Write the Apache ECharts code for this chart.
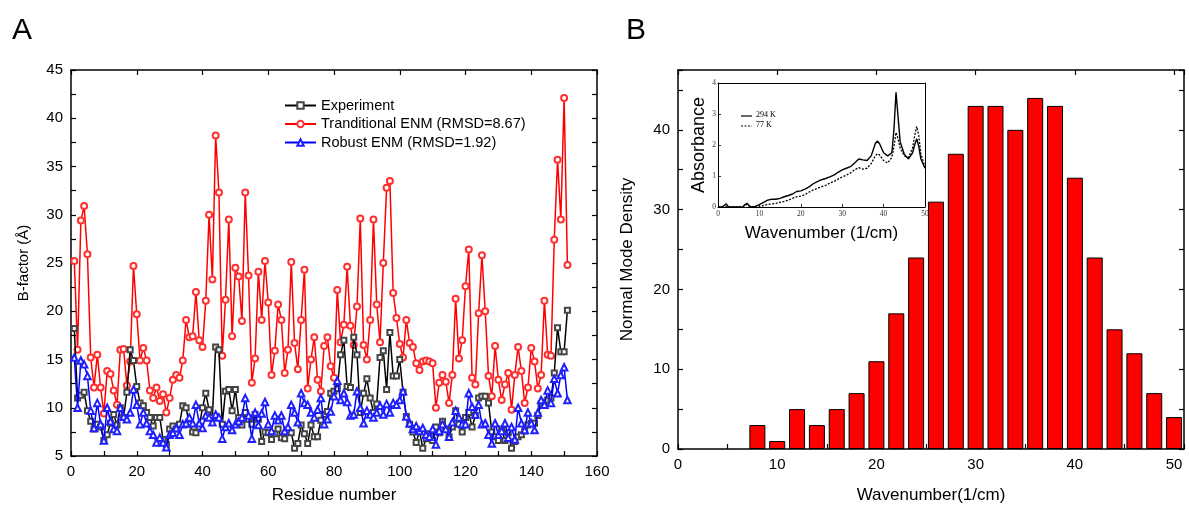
<!DOCTYPE html>
<html><head><meta charset="utf-8">
<script src="https://cdn.jsdelivr.net/npm/echarts@6/dist/echarts.min.js"></script>
<style>html,body{margin:0;padding:0;background:#fff}#c{width:1189px;height:509px}</style>
</head><body><div id="c"></div>
<script>
// ---------- Panel A data ----------
const residues = Array.from({length:151},(_,i)=>i+1);
const experiment = [
18.2,11.0,11.3,11.6,9.7,8.6,7.8,8.3,8.0,6.6,
7.2,8.4,9.3,8.2,10.0,9.0,11.6,16.0,14.9,12.2,
10.5,10.2,9.5,9.0,8.1,9.0,9.0,6.7,6.2,7.8,
8.1,7.8,8.3,10.2,10.0,8.3,7.5,7.4,8.0,10.0,
11.5,9.8,9.0,16.3,16.0,8.3,11.7,11.9,9.7,11.9,
9.0,8.2,9.5,8.8,8.3,9.3,8.8,6.5,7.5,7.4,
6.7,7.3,7.8,6.9,6.8,7.6,7.4,5.8,6.3,8.2,
7.3,6.3,8.2,7.0,7.0,8.7,9.3,9.6,11.5,11.7,
12.0,15.5,17.0,12.2,12.1,17.3,15.5,9.5,11.5,13.0,
11.0,9.5,10.4,15.2,15.9,11.9,17.8,13.3,13.3,15.0,
11.6,9.1,8.3,7.5,6.4,7.6,5.8,6.8,7.3,6.6,
8.0,7.4,8.6,7.8,7.0,8.0,9.7,8.3,7.5,9.0,
9.5,8.0,9.2,11.0,11.2,11.2,10.5,7.5,7.0,6.6,
7.8,6.6,7.4,5.8,6.5,7.0,7.2,7.6,8.2,8.4,
8.4,9.2,10.4,10.6,10.8,11.0,13.6,18.3,15.8,15.8,
20.1];
const traditional = [
25.2,16.0,29.4,30.9,25.9,15.2,12.1,15.5,12.1,9.4,
13.8,13.5,11.8,10.3,16.0,16.1,12.3,14.8,24.7,19.7,
14.9,16.2,14.9,11.8,11.0,12.1,10.7,11.4,9.5,11.0,
12.9,13.4,13.1,14.9,19.1,17.3,17.4,22.0,17.0,16.3,
21.1,30.0,23.3,38.2,32.3,15.4,21.2,29.5,17.4,24.5,
23.6,19.0,32.3,23.7,12.6,15.1,24.1,19.1,25.2,20.9,
13.4,15.9,20.7,19.1,13.6,16.0,25.1,16.7,14.0,19.1,
24.3,12.0,15.0,17.3,12.9,11.7,16.4,17.3,14.3,13.1,
22.2,16.8,18.6,24.6,18.5,16.5,20.5,29.6,16.5,15.0,
19.1,29.5,20.7,16.8,25.0,32.8,33.5,21.9,19.3,16.6,
15.2,19.1,16.7,16.3,14.6,13.9,14.8,14.9,14.8,14.6,
10.0,12.6,13.4,12.7,10.5,13.4,21.3,15.1,17.0,22.6,
26.4,13.1,12.4,19.8,25.8,20.0,13.3,11.2,16.4,12.9,
10.8,12.4,13.6,9.8,13.4,16.3,13.8,10.5,12.1,16.2,
14.8,12.0,13.4,21.1,15.5,15.4,27.4,35.7,29.5,42.1,
24.8];
const robust = [
15.2,10.0,14.9,14.5,13.3,9.7,7.9,10.5,8.3,6.6,
10.0,8.6,7.8,7.6,10.0,9.1,8.8,9.5,11.9,10.3,
8.3,9.5,8.4,7.6,7.2,6.4,6.9,6.4,5.9,7.2,
7.4,7.9,7.2,8.3,8.4,9.0,8.4,10.3,8.4,7.9,
9.2,9.0,8.5,9.3,9.0,6.8,8.0,8.4,7.7,8.3,
8.6,9.0,11.0,9.2,6.8,9.5,8.2,9.4,10.6,8.3,
7.6,9.2,8.7,9.2,7.6,8.0,10.3,9.5,8.5,11.5,
10.5,10.3,9.5,9.0,9.8,11.0,8.3,8.8,9.6,11.2,
12.8,10.8,11.5,10.6,9.2,9.3,11.7,10.0,8.4,9.7,
9.3,9.0,9.5,10.2,9.3,10.4,9.5,10.5,10.3,10.8,
11.7,9.1,8.4,7.8,8.1,7.6,7.9,7.2,7.0,7.8,
6.2,7.6,8.3,7.8,7.0,8.5,9.7,9.0,8.3,8.3,
11.5,10.1,9.3,10.3,8.3,8.4,7.2,6.3,8.4,7.2,
7.6,8.4,6.9,8.0,6.7,10.0,8.4,7.7,9.5,8.4,
7.7,9.5,10.8,10.3,11.8,10.5,13.0,11.5,13.4,14.2,
10.8];
const seriesNamesA = ['Experiment','Tranditional ENM (RMSD=8.67)','Robust ENM (RMSD=1.92)'];

// ---------- Panel B data ----------
const wavenumbers = [8,10,12,14,16,18,20,22,24,26,28,30,32,34,36,38,40,42,44,46,48,50];
const density     = [3,1,5,3,5,7,11,17,24,31,37,43,43,40,44,43,34,24,15,12,7,4];

// ---------- Inset data ----------
const insetX   = [0,1,2,2.5,3,6,6.5,7,7.5,8,9,10,11,12,13,14,15,16,17,18,19,20,21,22,23,24,25,26,27,28,29,30,31,32,33,34,35,36,37,38,38.5,39,40,41,42,42.5,43,43.5,44,45,46,47,47.5,48,48.5,49,50];
const abs294   = [0,0,0.1,0,0,0,0.08,0.12,0.05,0,0.02,0.08,0.15,0.22,0.25,0.25,0.28,0.33,0.37,0.42,0.5,0.52,0.58,0.65,0.75,0.82,0.88,0.92,0.97,1.03,1.12,1.2,1.25,1.3,1.42,1.55,1.52,1.5,1.65,2.05,2.13,2.05,1.75,1.65,1.75,2.5,3.7,2.9,2.1,1.7,1.55,1.75,2.0,2.2,1.95,1.55,1.25];
const abs77    = [0,0,0,0,0,0,0.05,0.08,0.03,0,0,0,0.05,0.08,0.1,0.12,0.15,0.18,0.22,0.28,0.33,0.35,0.4,0.48,0.55,0.6,0.65,0.7,0.77,0.82,0.9,0.97,1.03,1.1,1.2,1.27,1.22,1.25,1.4,1.65,1.72,1.68,1.5,1.42,1.6,1.95,2.4,2.2,1.9,1.65,1.6,1.9,2.3,2.6,2.3,1.7,1.3];
const insetLegend = ['294 K','77 K'];

const SANS = 'Liberation Sans, Arial, sans-serif';
const SERIF = 'Liberation Serif, Times New Roman, serif';
const pair = (xs, ys) => xs.map((x,i)=>[x, ys[i]]);
const TICK_IN = {show:true, inside:false, length:-5, lineStyle:{color:'#000',width:1.2}};

function frameAxes(gridIndex, opts){ // top/right mirror axes for box frame
  return Object.assign({gridIndex, type:'value', axisLine:{show:true,onZero:false,lineStyle:{color:'#000',width:1.5}},
    axisTick:TICK_IN, axisLabel:{show:false}, splitLine:{show:false}}, opts);
}

const chart = echarts.init(document.getElementById('c'), null, {renderer:'canvas'});
const option = {
  animation:false,
  backgroundColor:'#fff',
  graphic:[
    {type:'text', left:12, top:16, style:{text:'A', font:'30px '+SANS, fill:'#000'}},
    {type:'text', left:626, top:16, style:{text:'B', font:'30px '+SANS, fill:'#000'}},
    // inset legend (294 K solid, 77 K dotted)
    {type:'line', shape:{x1:741, y1:116, x2:752, y2:116}, style:{stroke:'#000', lineWidth:1.2}, z:20},
    {type:'text', left:756, top:111, style:{text:insetLegend[0], font:'8px '+SERIF, fill:'#000'}, z:20},
    {type:'line', shape:{x1:741, y1:126, x2:752, y2:126}, style:{stroke:'#000', lineWidth:1.2, lineDash:[2,1.5]}, z:20},
    {type:'text', left:756, top:121, style:{text:insetLegend[1], font:'8px '+SERIF, fill:'#000'}, z:20}
  ],
  grid:[
    {left:71, top:70, width:526, height:386},
    {left:678, top:70, width:506, height:381.5},
    {left:718, top:83, width:207, height:124, show:true, backgroundColor:'#fff', borderWidth:0, z:5}
  ],
  legend:[
    {data:seriesNamesA, orient:'vertical', left:279, top:93, itemWidth:31, itemHeight:8, itemGap:3.5,
     textStyle:{fontFamily:SANS, fontSize:14.5, color:'#000'}}
  ],
  xAxis:[
    {gridIndex:0, type:'value', min:0, max:160, interval:10, position:'bottom',
     name:'Residue number', nameLocation:'middle', nameGap:31,
     nameTextStyle:{fontFamily:SANS, fontSize:17, color:'#000'},
     axisLine:{onZero:false,lineStyle:{color:'#000',width:1.5}},
     axisTick:TICK_IN,
     axisLabel:{fontFamily:SANS, fontSize:15, color:'#000', margin:8, formatter:v=>v%20===0?String(v):''},
     splitLine:{show:false}},
    frameAxes(0,{min:0,max:160,interval:20,position:'top'}),
    {gridIndex:1, type:'value', min:0, max:51, interval:5, position:'bottom',
     name:'Wavenumber(1/cm)', nameLocation:'middle', nameGap:38,
     nameTextStyle:{fontFamily:SANS, fontSize:17, color:'#000'},
     axisLine:{onZero:false,lineStyle:{color:'#000',width:1.5}},
     axisTick:TICK_IN,
     axisLabel:{fontFamily:SANS, fontSize:15, color:'#000', margin:8, formatter:v=>(v%10===0&&v<=50)?String(v):''},
     splitLine:{show:false}},
    frameAxes(1,{min:0,max:51,interval:10,position:'top'}),
    {gridIndex:2, type:'value', min:0, max:50, interval:10, position:'bottom',
     name:'Wavenumber (1/cm)', nameLocation:'middle', nameGap:18,
     nameTextStyle:{fontFamily:SANS, fontSize:17, color:'#000'},
     axisLine:{onZero:false,lineStyle:{color:'#000',width:1}},
     axisTick:{show:true,inside:false,length:-3,lineStyle:{color:'#000',width:0.8}},
     axisLabel:{fontFamily:SERIF, fontSize:7.5, color:'#333', margin:3},
     splitLine:{show:false}, z:6},
    frameAxes(2,{min:0,max:50,interval:10,position:'top', axisLine:{show:true,onZero:false,lineStyle:{color:'#000',width:1}}, axisTick:{show:false}, z:6})
  ],
  yAxis:[
    {gridIndex:0, type:'value', min:5, max:45, interval:2.5, position:'left',
     name:'B-factor (Å)', nameLocation:'middle', nameGap:40,
     nameTextStyle:{fontFamily:SANS, fontSize:15, color:'#000'},
     axisLine:{show:true,onZero:false,lineStyle:{color:'#000',width:1.5}},
     axisTick:TICK_IN,
     axisLabel:{fontFamily:SANS, fontSize:15, color:'#000', margin:8, formatter:v=>v%5===0?String(v):''},
     splitLine:{show:false}},
    frameAxes(0,{min:5,max:45,interval:2.5,position:'right'}),
    {gridIndex:1, type:'value', min:0, max:47.5, interval:5, position:'left',
     name:'Normal Mode Density', nameLocation:'middle', nameGap:42,
     nameTextStyle:{fontFamily:SANS, fontSize:17, color:'#000'},
     axisLine:{show:true,onZero:false,lineStyle:{color:'#000',width:1.5}},
     axisTick:TICK_IN,
     axisLabel:{fontFamily:SANS, fontSize:15, color:'#000', margin:8, formatter:v=>v%10===0?String(v):''},
     splitLine:{show:false}},
    frameAxes(1,{min:0,max:47.5,interval:5,position:'right'}),
    {gridIndex:2, type:'value', min:0, max:4, interval:1, position:'left',
     name:'Absorbance', nameLocation:'middle', nameGap:9,
     nameTextStyle:{fontFamily:SANS, fontSize:18, color:'#000'},
     axisLine:{show:true,onZero:false,lineStyle:{color:'#000',width:1}},
     axisTick:{show:true,inside:false,length:-3,lineStyle:{color:'#000',width:0.8}},
     axisLabel:{fontFamily:SERIF, fontSize:7.5, color:'#333', margin:2},
     splitLine:{show:false}, z:6},
    frameAxes(2,{min:0,max:4,interval:1,position:'right', axisLine:{show:true,onZero:false,lineStyle:{color:'#000',width:1}}, axisTick:{show:false}, z:6})
  ],
  series:[
    {name:seriesNamesA[0], type:'line', xAxisIndex:0, yAxisIndex:0, data:pair(residues, experiment),
     symbol:'emptyRect', symbolSize:5, lineStyle:{color:'#000',width:1.5}, itemStyle:{color:'#444',borderWidth:1}, z:3},
    {name:seriesNamesA[1], type:'line', xAxisIndex:0, yAxisIndex:0, data:pair(residues, traditional),
     symbol:'emptyCircle', symbolSize:6, lineStyle:{color:'#ff0000',width:1.5}, itemStyle:{color:'#ff3030',borderWidth:1}, z:2},
    {name:seriesNamesA[2], type:'line', xAxisIndex:0, yAxisIndex:0, data:pair(residues, robust),
     symbol:'emptyTriangle', symbolSize:6.5, lineStyle:{color:'#0000ff',width:1.5}, itemStyle:{color:'#2020ff',borderWidth:1}, z:4},
    {name:'density', type:'bar', xAxisIndex:2, yAxisIndex:2, data:pair(wavenumbers, density),
     barWidth:16, itemStyle:{color:'#ff0000', borderColor:'#000', borderWidth:1}},
    {name:insetLegend[0], type:'line', xAxisIndex:4, yAxisIndex:4, data:pair(insetX, abs294),
     showSymbol:false, symbol:'none', lineStyle:{color:'#000',width:1.4,type:'solid'}, z:7},
    {name:insetLegend[1], type:'line', xAxisIndex:4, yAxisIndex:4, data:pair(insetX, abs77),
     showSymbol:false, symbol:'none', lineStyle:{color:'#000',width:1.3,type:[2,1.5]}, z:7}
  ]
};
chart.setOption(option);
</script>
</body></html>
